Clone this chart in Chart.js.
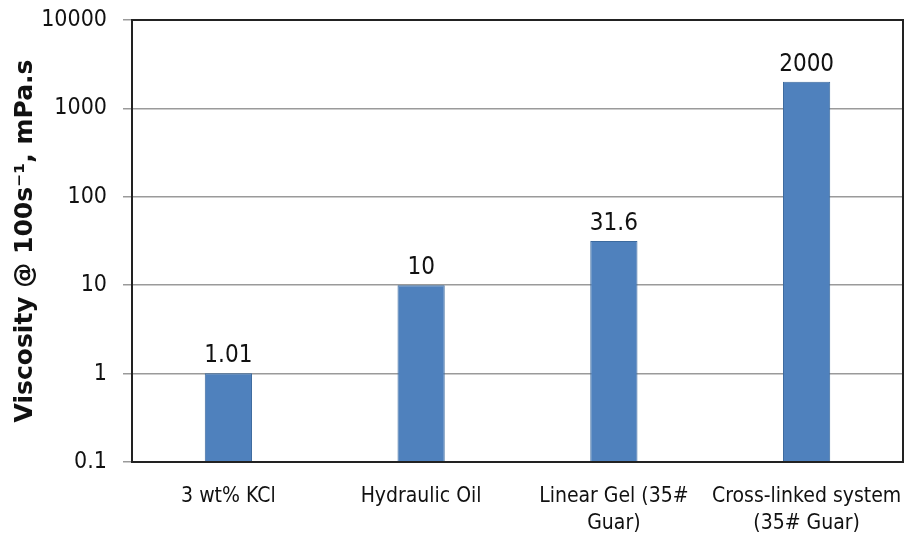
<!DOCTYPE html>
<html>
<head>
<meta charset="utf-8">
<script src="https://cdn.jsdelivr.net/npm/chart.js@4"></script>
<style>
  html, body { margin: 0; padding: 0; background: #fff; }
  #wrap { width: 906px; height: 544px; }
</style>
</head>
<body>
<div id="wrap"><canvas id="chart" width="906" height="544"></canvas></div>
<script>
// Chart data
const categories = [['3 wt% KCl'], ['Hydraulic Oil'], ['Linear Gel (35#', 'Guar)'], ['Cross-linked system', '(35# Guar)']];
const viscosity = [1.01, 10, 31.6, 2000];
const valueLabels = ['1.01', '10', '31.6', '2000'];
const yTicks = [0.1, 1, 10, 100, 1000, 10000];
const yTickLabels = ['0.1', '1', '10', '100', '1000', '10000'];

const tickFont = "'DejaVu Sans Condensed', 'DejaVu Sans', sans-serif";

// frame around the plot area
const framePlugin = {
    id: 'frame',
    afterDraw(chart) {
        const { ctx, chartArea: a } = chart;
        ctx.save();
        ctx.strokeStyle = '#222';
        ctx.lineWidth = 2;
        ctx.strokeRect(a.left, a.top, a.right - a.left, a.bottom - a.top);
        ctx.restore();
    }
};

// value labels above bars
const valuePlugin = {
    id: 'values',
    afterDatasetsDraw(chart) {
        const { ctx } = chart;
        const meta = chart.getDatasetMeta(0);
        ctx.save();
        ctx.fillStyle = '#111';
        ctx.font = '24px ' + tickFont;
        ctx.textAlign = 'center';
        ctx.textBaseline = 'bottom';
        meta.data.forEach((bar, i) => {
            ctx.fillText(valueLabels[i], bar.x, bar.y - 5);
        });
        ctx.restore();
    }
};

new Chart(document.getElementById('chart'), {
    type: 'bar',
    data: {
        labels: categories,
        datasets: [{
            data: viscosity,
            backgroundColor: '#4F81BD',
            borderColor: '#3C6A9E',
            borderWidth: 1,
            barPercentage: 0.245,
            categoryPercentage: 1
        }]
    },
    options: {
        responsive: false,
        animation: false,
        layout: { padding: { left: 0, right: 3, top: 20, bottom: 0 } },
        plugins: { legend: { display: false }, tooltip: { enabled: false } },
        scales: {
            x: {
                grid: { display: false, drawTicks: false },
                border: { color: '#222', width: 2 },
                ticks: {
                    color: '#111',
                    font: { family: tickFont, size: 21, lineHeight: 1.3 },
                    padding: 21, maxRotation: 0, autoSkip: false
                },
                afterFit(s) {
                    s.height = 82;
                    s.paddingLeft = 0;
                    s.paddingRight = 0;
                }
            },
            y: {
                type: 'logarithmic',
                min: 0.1,
                max: 10000,
                afterBuildTicks(s) { s.ticks = yTicks.map(v => ({ value: v })); },
                grid: { color: '#9a9a9a', lineWidth: 1.5, tickLength: 9 },
                border: { color: '#222', width: 2 },
                ticks: {
                    color: '#111',
                    font: { family: tickFont, size: 23 },
                    padding: 16,
                    callback(v) {
                        const i = yTicks.indexOf(v);
                        return i >= 0 ? yTickLabels[i] : '';
                    }
                },
                title: {
                    display: true,
                    text: 'Viscosity @ 100s\u207B\u00B9, mPa.s',
                    color: '#111',
                    font: { family: "'DejaVu Sans', sans-serif", size: 25, weight: 'bold', lineHeight: 1.2 },
                    padding: { top: 10, bottom: 0 }
                },
                afterFit(s) {
                    s.width = 132;
                    s.paddingTop = 0;
                    s.paddingBottom = 0;
                }
            }
        }
    },
    plugins: [framePlugin, valuePlugin]
});
</script>
</body>
</html>
